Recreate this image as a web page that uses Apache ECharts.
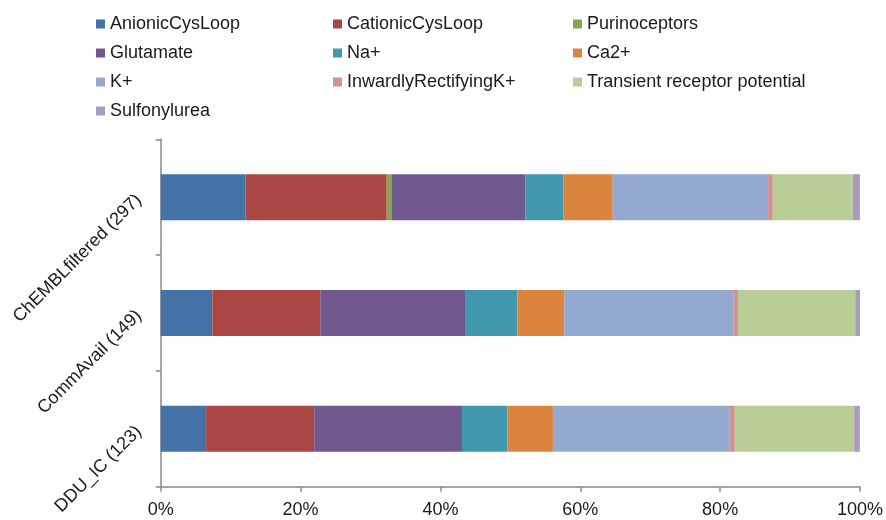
<!DOCTYPE html>
<html>
<head>
<meta charset="utf-8">
<script src="https://cdn.jsdelivr.net/npm/echarts@6/dist/echarts.min.js"></script>
<style>
  html, body { margin: 0; padding: 0; background: #fff; }
  #chart { width: 886px; height: 520px; }
</style>
</head>
<body>
<div id="chart"></div>
<script>
var categories = ['ChEMBLfiltered (297)', 'CommAvail (149)', 'DDU_IC (123)'];
var xTicks = ['0%', '20%', '40%', '60%', '80%', '100%'];

// share of each target class per dataset, in %
var anionicCysLoop = [12.12, 7.38, 6.50];
var cationicCysLoop = [20.20, 15.44, 15.45];
var purinoceptors = [0.67, 0, 0];
var glutamate = [19.19, 20.81, 21.14];
var naPlus = [5.39, 7.38, 6.50];
var ca2Plus = [7.07, 6.71, 6.50];
var kPlus = [22.22, 24.16, 25.20];
var inwardlyRectifyingK = [0.67, 0.67, 0.81];
var trp = [11.45, 16.78, 17.07];
var sulfonylurea = [1.01, 0.67, 0.81];

var seriesDefs = [
  ['AnionicCysLoop', anionicCysLoop, '#4572A7'],
  ['CationicCysLoop', cationicCysLoop, '#AA4643'],
  ['Purinoceptors', purinoceptors, '#89A54E'],
  ['Glutamate', glutamate, '#71588F'],
  ['Na+', naPlus, '#4198AF'],
  ['Ca2+', ca2Plus, '#DB843D'],
  ['K+', kPlus, '#93A9CF'],
  ['InwardlyRectifyingK+', inwardlyRectifyingK, '#D19392'],
  ['Transient receptor potential', trp, '#B9CD96'],
  ['Sulfonylurea', sulfonylurea, '#A99BBD']
];

var font = 'Liberation Sans, Arial, sans-serif';
var legendBase = {
  orient: 'vertical',
  top: 14,
  padding: 0,
  itemWidth: 9,
  itemHeight: 9,
  itemGap: 9,
  icon: 'rect',
  selectedMode: false,
  textStyle: { fontFamily: font, fontSize: 18, color: '#1a1a1a', lineHeight: 20 }
};
function legendCol(left, names) {
  return Object.assign({}, legendBase, { left: left, data: names });
}

var myChart = echarts.init(document.getElementById('chart'));
var option = {
  animation: false,
  backgroundColor: '#fff',
  legend: [
    legendCol(96, ['AnionicCysLoop', 'Glutamate', 'K+', 'Sulfonylurea']),
    legendCol(333, ['CationicCysLoop', 'Na+', 'InwardlyRectifyingK+']),
    legendCol(573, ['Purinoceptors', 'Ca2+', 'Transient receptor potential'])
  ],
  grid: {
    left: 160.7,
    right: 24.3,
    top: 139.3,
    bottom: 33.3
  },
  xAxis: {
    type: 'value',
    min: 0,
    max: 100,
    interval: 20,
    axisLine: { show: true, lineStyle: { color: '#888', width: 1.5 } },
    axisTick: { show: true, length: 5, lineStyle: { color: '#888', width: 1.5 } },
    splitLine: { show: false },
    axisLabel: {
      margin: 14,
      fontFamily: font,
      fontSize: 18,
      color: '#1a1a1a',
      formatter: function(v) { return xTicks[Math.round(v / 20)]; }
    }
  },
  yAxis: {
    type: 'category',
    inverse: true,
    data: categories,
    axisLine: { show: true, lineStyle: { color: '#888', width: 1.5 } },
    axisTick: { show: true, length: 5, lineStyle: { color: '#888', width: 1.5 } },
    axisLabel: {
      rotate: 45,
      margin: 22,
      fontFamily: font,
      fontSize: 18,
      color: '#1a1a1a'
    }
  },
  series: seriesDefs.map(function(d) {
    return {
      name: d[0],
      type: 'bar',
      stack: 'total',
      barWidth: 46,
      data: d[1],
      itemStyle: { color: d[2] }
    };
  })
};
myChart.setOption(option);
</script>
</body>
</html>
